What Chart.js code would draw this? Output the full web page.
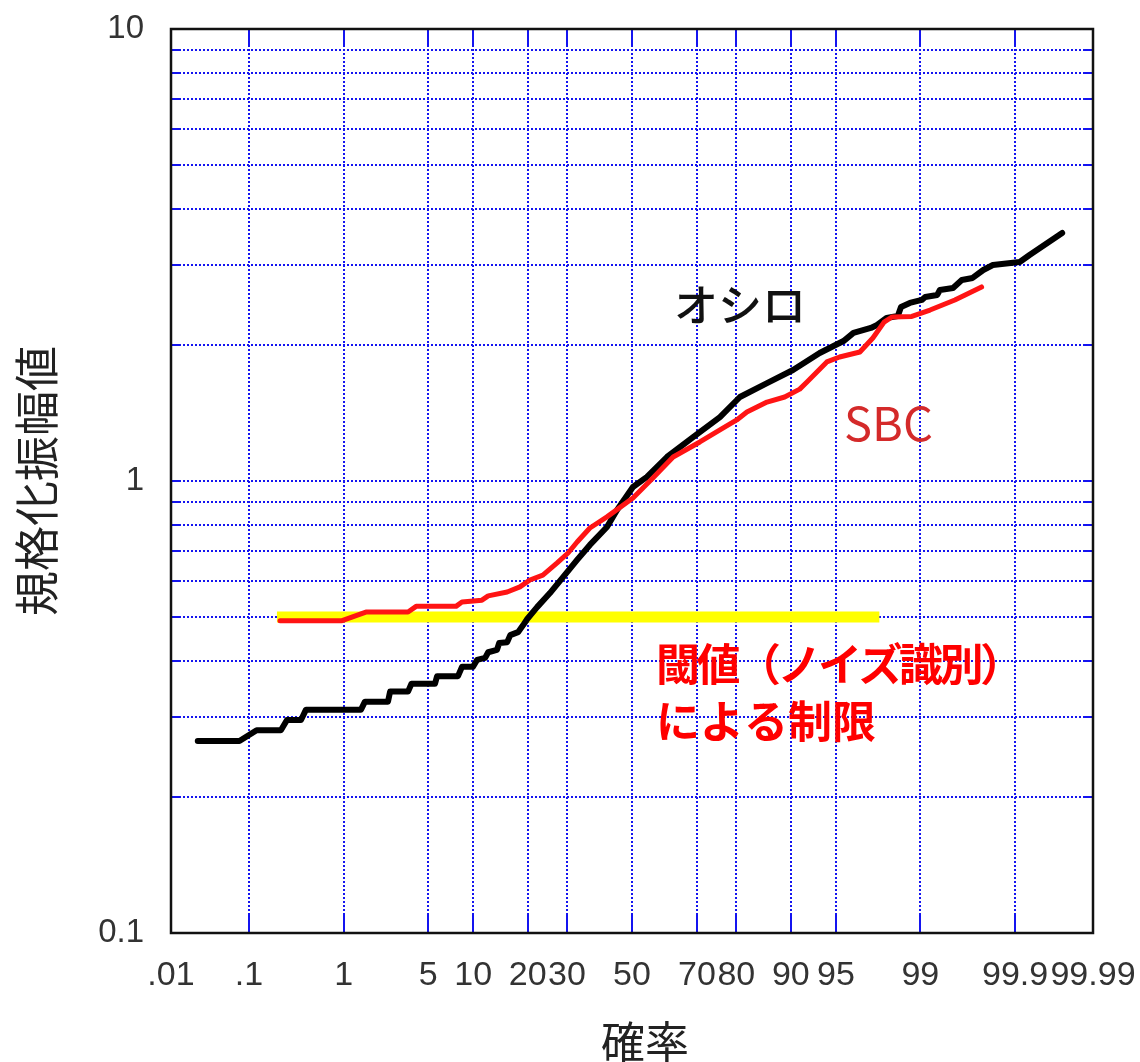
<!DOCTYPE html>
<html>
<head>
<meta charset="utf-8">
<script src="https://cdn.jsdelivr.net/npm/chart.js@4.4.1/dist/chart.umd.min.js"></script>
<style>
  html, body { margin: 0; padding: 0; background: #ffffff; }
  #wrap { width: 1140px; height: 1062px; }
</style>
</head>
<body>
<div id="wrap"><canvas id="chart" width="1140" height="1062"></canvas></div>
<script>
// Cumulative probability (%) on a normal-probability axis
const probTicks = [0.01, 0.1, 1, 5, 10, 20, 30, 50, 70, 80, 90, 95, 99, 99.9, 99.99];
const probTickLabels = ['.01', '.1', '1', '5', '10', '20', '30', '50', '70', '80', '90', '95', '99', '99.9', '99.99'];

// Normalized amplitude on a log axis
const ampTicks = [0.1, 0.2, 0.3, 0.4, 0.5, 0.6, 0.7, 0.8, 0.9, 1, 2, 3, 4, 5, 6, 7, 8, 9, 10];
const ampTickLabels = ['0.1', '', '', '', '', '', '', '', '', '1', '', '', '', '', '', '', '', '', '10'];

// Oscilloscope measurement
const scopeProb = [0.023, 0.077, 0.123, 0.231, 0.269, 0.379, 0.427, 1.44, 1.56, 2.45, 2.55, 3.54, 3.76, 5.60, 5.79,
  8.02, 8.51, 9.98, 10.56, 11.8, 12.3, 13.8, 14.2, 15.7, 16.3, 17.9, 19.0, 19.9, 22.2, 25.4, 28.9,
  32.9, 36.7, 42.0, 45.2, 50.3, 54.8, 61.1, 68.9, 76.1, 80.8, 86.2, 90.3, 93.5, 95.6, 96.3, 97.3,
  97.6, 98.0, 98.4, 98.5, 98.75, 99.03, 99.10, 99.31, 99.35, 99.52, 99.61, 99.70, 99.77, 99.82, 99.912, 99.933, 99.974];
const scopeAmp = [0.266, 0.266, 0.281, 0.281, 0.296, 0.296, 0.312, 0.312, 0.325, 0.325, 0.342, 0.342, 0.356, 0.356, 0.370,
  0.370, 0.388, 0.388, 0.402, 0.406, 0.418, 0.423, 0.438, 0.440, 0.456, 0.463, 0.480, 0.495, 0.526, 0.565, 0.613,
  0.669, 0.722, 0.791, 0.863, 0.970, 1.021, 1.130, 1.251, 1.385, 1.534, 1.647, 1.760, 1.919, 2.040, 2.126, 2.181,
  2.214, 2.295, 2.317, 2.427, 2.477, 2.515, 2.554, 2.580, 2.646, 2.673, 2.784, 2.813, 2.930, 3.005, 3.051, 3.162, 3.538];

// SBC measurement
const sbcProb = [0.226, 0.967, 1.59, 3.54, 4.08, 7.78, 8.51, 11.3, 12.3, 15.7, 18.3, 20.5, 23.6, 27.3, 30.3, 32.9,
  36.7, 42.0, 50.3, 56.7, 63.0, 70.8, 76.1, 80.1, 82.3, 86.2, 89.1, 91.2, 92.1, 94.2, 95.3, 96.7, 97.4, 97.9,
  98.2, 98.8, 99.19, 99.54, 99.76];
const sbcAmp = [0.491, 0.491, 0.513, 0.513, 0.528, 0.528, 0.540, 0.545, 0.557, 0.568, 0.583, 0.604, 0.619, 0.659, 0.693, 0.733,
  0.787, 0.833, 0.917, 1.015, 1.130, 1.220, 1.297, 1.365, 1.421, 1.495, 1.534, 1.597, 1.656, 1.834, 1.881, 1.929, 2.072, 2.247,
  2.306, 2.312, 2.389, 2.515, 2.687];

// Detection threshold (noise discrimination)
const thresholdProb = [0.209, 97.7];
const thresholdAmp = [0.5, 0.5];

const GRID_BLUE = '#1414f0';

// Inverse of the standard normal CDF (Acklam), argument in percent
function probit(pct) {
  const p = pct / 100;
  const a = [-3.969683028665376e+01, 2.209460984245205e+02, -2.759285104469687e+02, 1.383577518672690e+02, -3.066479806614716e+01, 2.506628277459239e+00];
  const b = [-5.447609879822406e+01, 1.615858368580409e+02, -1.556989798598866e+02, 6.680131188771972e+01, -1.328068155288572e+01];
  const c = [-7.784894002430293e-03, -3.223964580411365e-01, -2.400758277161838e+00, -2.549732539343734e+00, 4.374664141464968e+00, 2.938163982698783e+00];
  const d = [7.784695709041462e-03, 3.224671290700398e-01, 2.445134137142996e+00, 3.754408661907416e+00];
  const pl = 0.02425, ph = 1 - pl;
  let q, r;
  if (p < pl) {
    q = Math.sqrt(-2 * Math.log(p));
    return (((((c[0]*q + c[1])*q + c[2])*q + c[3])*q + c[4])*q + c[5]) / ((((d[0]*q + d[1])*q + d[2])*q + d[3])*q + 1);
  }
  if (p > ph) {
    q = Math.sqrt(-2 * Math.log(1 - p));
    return -(((((c[0]*q + c[1])*q + c[2])*q + c[3])*q + c[4])*q + c[5]) / ((((d[0]*q + d[1])*q + d[2])*q + d[3])*q + 1);
  }
  q = p - 0.5; r = q * q;
  return (((((a[0]*r + a[1])*r + a[2])*r + a[3])*r + a[4])*r + a[5])*q / (((((b[0]*r + b[1])*r + b[2])*r + b[3])*r + b[4])*r + 1);
}

// Standard normal CDF, result in percent
function normCdfPct(z) {
  const t = 1 / (1 + 0.3275911 * Math.abs(z) / Math.SQRT2);
  const y = 1 - (((((1.061405429 * t - 1.453152027) * t) + 1.421413741) * t - 0.284496736) * t + 0.254829592) * t * Math.exp(-z * z / 2);
  return 100 * (z >= 0 ? 0.5 * (1 + y) : 0.5 * (1 - y));
}

// Normal probability scale: values are percentages, spaced by their normal quantile
class ProbabilityScale extends Chart.Scale {
  static id = 'probability';
  static defaults = {};
  determineDataLimits() {
    this.min = this.options.min;
    this.max = this.options.max;
  }
  buildTicks() {
    return probTicks.map(v => ({ value: v }));
  }
  configure() {
    super.configure();
    this._zMin = probit(this.min);
    this._zMax = probit(this.max);
  }
  getLabelForValue(v) { return String(v); }
  getPixelForValue(v) {
    if (v === null || v === undefined || isNaN(v)) return NaN;
    return this.getPixelForDecimal((probit(v) - this._zMin) / (this._zMax - this._zMin));
  }
  getValueForPixel(px) {
    const dec = this.getDecimalForPixel(px);
    return normCdfPct(this._zMin + dec * (this._zMax - this._zMin));
  }
}
Chart.register(ProbabilityScale);

const toPoints = (xs, ys) => xs.map((x, i) => ({ x, y: ys[i] }));

// Inner tick marks and the black plot frame
const plotFrame = {
  id: 'plotFrame',
  beforeDatasetsDraw(chart) {
    const { ctx, chartArea: a, scales: { x, y } } = chart;
    ctx.save();
    ctx.strokeStyle = GRID_BLUE;
    ctx.lineWidth = 2;
    ctx.beginPath();
    probTicks.slice(1, -1).forEach(v => {
      const px = Math.round(x.getPixelForValue(v) - 1) + 1;
      ctx.moveTo(px, a.top); ctx.lineTo(px, a.top + 16);
      ctx.moveTo(px, a.bottom - 18); ctx.lineTo(px, a.bottom);
    });
    ampTicks.slice(1, -1).forEach(v => {
      const py = Math.round(y.getPixelForValue(v) - 1) + 1;
      ctx.moveTo(a.left, py); ctx.lineTo(a.left + 8, py);
      ctx.moveTo(a.right - 8, py); ctx.lineTo(a.right, py);
    });
    ctx.stroke();
    ctx.strokeStyle = '#111111';
    ctx.lineWidth = 2.5;
    ctx.strokeRect(a.left, a.top, a.right - a.left, a.bottom - a.top);
    ctx.restore();
  }
};

// Series names, threshold note and the probability axis title
const plotText = {
  id: 'plotText',
  afterDatasetsDraw(chart) {
    const { ctx } = chart;
    ctx.save();
    ctx.textBaseline = 'middle';

    ctx.fillStyle = '#111111';
    ctx.textAlign = 'center';
    ctx.font = '500 44px "Noto Sans CJK JP"';
    ctx.fillText('オシロ', 740, 305);

    ctx.fillStyle = '#d42a2a';
    ctx.textAlign = 'left';
    ctx.font = '47px "Noto Sans CJK JP"';
    ctx.fillText('SBC', 844, 423);

    ctx.fillStyle = '#ff0000';
    ctx.font = 'bold 44px "Noto Sans CJK JP"';
    ctx.letterSpacing = '-3.5px';
    ctx.fillText('閾値（ノイズ識別）', 656, 664);
    ctx.letterSpacing = '0px';
    ctx.fillText('による制限', 656, 721);

    ctx.fillStyle = '#222222';
    ctx.textAlign = 'center';
    ctx.font = '44px "Noto Sans CJK JP"';
    ctx.fillText('確率', 645, 1042);
    ctx.restore();
  }
};

new Chart(document.getElementById('chart'), {
  type: 'line',
  data: {
    datasets: [
      {
        label: 'SBC',
        data: toPoints(sbcProb, sbcAmp),
        borderColor: '#ff1414',
        borderWidth: 5,
        borderJoinStyle: 'round',
        borderCapStyle: 'round',
        pointRadius: 0,
        tension: 0,
        order: 0
      },
      {
        label: 'オシロ',
        data: toPoints(scopeProb, scopeAmp),
        borderColor: '#000000',
        borderWidth: 6,
        borderJoinStyle: 'round',
        borderCapStyle: 'round',
        pointRadius: 0,
        tension: 0,
        order: 1
      },
      {
        label: '閾値',
        data: toPoints(thresholdProb, thresholdAmp),
        borderColor: '#ffff00',
        borderWidth: 11,
        borderCapStyle: 'butt',
        pointRadius: 0,
        tension: 0,
        order: 2
      }
    ]
  },
  options: {
    responsive: false,
    animation: false,
    events: [],
    layout: { padding: { top: 29, right: 47, bottom: 0, left: 0 } },
    plugins: {
      legend: { display: false },
      tooltip: { enabled: false }
    },
    scales: {
      x: {
        type: 'probability',
        position: 'bottom',
        min: 0.01,
        max: 99.99,
        afterFit: s => { s.height = 129; s.paddingLeft = 0; s.paddingRight = 0; },
        grid: { color: GRID_BLUE, lineWidth: 2, drawTicks: false },
        border: { display: false, dash: [2, 2] },
        ticks: {
          autoSkip: false,
          minRotation: 0,
          maxRotation: 0,
          padding: 22,
          color: '#333333',
          font: { family: '"Liberation Sans", Arial, sans-serif', size: 34 },
          callback: (v, i) => probTickLabels[i]
        }
      },
      y: {
        type: 'logarithmic',
        position: 'left',
        min: 0.1,
        max: 10,
        afterFit: s => { s.width = 171; s.paddingTop = 0; s.paddingBottom = 0; },
        afterBuildTicks: s => { s.ticks = ampTicks.map(v => ({ value: v })); },
        grid: { color: GRID_BLUE, lineWidth: 2, drawTicks: false },
        border: { display: false, dash: [2, 2] },
        ticks: {
          autoSkip: false,
          padding: 27,
          color: '#333333',
          font: { family: '"Liberation Sans", Arial, sans-serif', size: 33 },
          callback: v => ampTickLabels[ampTicks.indexOf(v)]
        },
        title: {
          display: true,
          text: '規格化振幅値',
          color: '#222222',
          font: { family: '"Noto Sans CJK JP"', size: 45 },
          padding: { top: 10, bottom: 0 }
        }
      }
    }
  },
  plugins: [plotFrame, plotText]
});
</script>
</body>
</html>
